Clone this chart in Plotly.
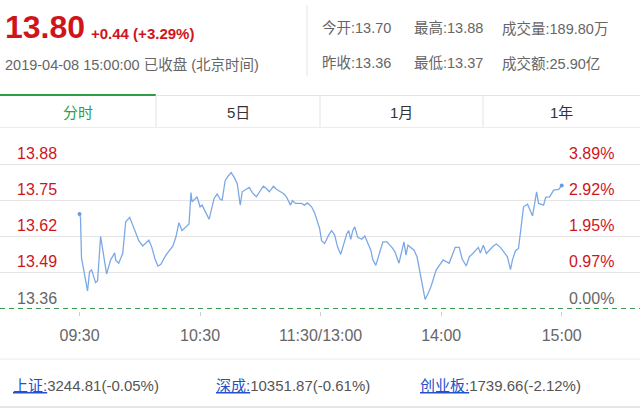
import plotly.graph_objects as go

# intraday minutes since 09:30 (lunch break removed) and price
minutes = [0, 0.5, 1, 2, 4, 5, 6, 8, 9, 10.5, 12, 13.5, 15.5, 17.5, 18, 19.5, 21.5, 23, 25,
           26.5, 28, 29.5, 31.5, 34.5, 36, 37.5, 39, 40.5, 43, 46.5, 48, 49.5, 51, 54.5,
           55.5, 56, 57.5, 58.5, 60, 61, 64.5, 66, 67, 68.5, 70, 71, 72.5, 74, 75.5, 77,
           78.5, 80, 81, 83, 84.5, 86, 88, 91.5, 93, 94.5, 96.5, 98, 101.5, 103, 105, 106,
           107.5, 110.5, 112, 113.5, 115.5, 117, 118, 119.5, 120.5, 122, 124, 125.5, 127,
           128.5, 130, 131.5, 133, 134, 135, 136, 137, 138.5, 140.5, 142, 143.5, 145, 146,
           147.5, 149, 151, 153, 155.5, 157, 159, 161.5, 162.5, 163.5, 166.5, 168, 170,
           171, 172, 173.5, 175, 177.5, 179, 181, 184, 185.5, 187, 189, 190.5, 192.5, 194,
           196, 198.5, 199.5, 201, 202.5, 206, 207.5, 209.5, 213, 214.5, 215.5, 217, 218.5,
           219.5, 221, 223, 225.5, 227.5, 228.5, 231, 232, 234, 236, 238.5, 240]
prices = [13.70, 13.686, 13.542, 13.498, 13.423, 13.492, 13.50, 13.453, 13.46, 13.62, 13.546,
          13.484, 13.535, 13.56, 13.535, 13.523, 13.558, 13.672, 13.688, 13.66, 13.633,
          13.604, 13.585, 13.606, 13.58, 13.54, 13.513, 13.519, 13.552, 13.585, 13.618,
          13.669, 13.64, 13.664, 13.777, 13.744, 13.754, 13.762, 13.726, 13.732, 13.681,
          13.726, 13.756, 13.772, 13.753, 13.75, 13.82, 13.837, 13.849, 13.832, 13.81,
          13.732, 13.78, 13.789, 13.796, 13.777, 13.762, 13.80, 13.792, 13.78, 13.80,
          13.789, 13.774, 13.762, 13.732, 13.748, 13.738, 13.738, 13.732, 13.74, 13.726,
          13.705, 13.68, 13.648, 13.604, 13.594, 13.624, 13.64, 13.624, 13.58, 13.555,
          13.594, 13.628, 13.64, 13.609, 13.64, 13.654, 13.616, 13.609, 13.621, 13.597,
          13.57, 13.535, 13.515, 13.552, 13.60, 13.60, 13.58, 13.564, 13.523, 13.60,
          13.552, 13.588, 13.57, 13.546, 13.474, 13.426, 13.393, 13.414, 13.44, 13.498,
          13.513, 13.535, 13.523, 13.552, 13.58, 13.58, 13.537, 13.513, 13.546, 13.56,
          13.58, 13.56, 13.588, 13.558, 13.585, 13.592, 13.58, 13.546, 13.50, 13.535,
          13.568, 13.576, 13.636, 13.726, 13.735, 13.693, 13.78, 13.738, 13.732, 13.76,
          13.762, 13.786, 13.789, 13.803]

time_ticks = [0, 60, 120, 180, 240]
time_labels = ["09:30", "10:30", "11:30/13:00", "14:00", "15:00"]

price_levels = [13.88, 13.75, 13.62, 13.49, 13.36]
price_labels = ["13.88", "13.75", "13.62", "13.49", "13.36"]
pct_labels = ["3.89%", "2.92%", "1.95%", "0.97%", "0.00%"]
prev_close = 13.36

last_price = "13.80"
change_text = "+0.44 (+3.29%)"
status_text = "2019-04-08 15:00:00 已收盘 (北京时间)"
info_row1 = ["今开:13.70", "最高:13.88", "成交量:189.80万"]
info_row2 = ["昨收:13.36", "最低:13.37", "成交额:25.90亿"]
tabs = ["分时", "5日", "1月", "1年"]
index_names = ["上证:", "深成:", "创业板:"]
index_values = ["3244.81(-0.05%)", "10351.87(-0.61%)", "1739.66(-2.12%)"]

W, H = 640, 410
TOP, BOTTOM = 140, 311
FONT = "Liberation Sans, Arial, Noto Sans CJK SC, sans-serif"
RED = "#d0141c"
GRAY = "#666666"
GREEN = "#2e9e45"

# pixel mapping for axes
x0_px, x1_px = 79.5, 561.7
ppm = (x1_px - x0_px) / 240
vpp = 0.13 / 36.1
y_top = 13.88 + (164 - TOP) * vpp
y_bot = 13.36 - (BOTTOM - 308.5) * vpp


def fx(x):
    return x / W


def fy(y):
    return (BOTTOM - y) / (BOTTOM - TOP)


fig = go.Figure()
fig.add_trace(go.Scatter(x=minutes, y=prices, mode="lines",
                         line=dict(color="#7ba9e6", width=1.3), hoverinfo="skip"))
fig.add_trace(go.Scatter(x=[minutes[0], minutes[-1]], y=[prices[0], prices[-1]], mode="markers",
                         marker=dict(color="#6a9be0", size=4), hoverinfo="skip"))

ann = []
shapes = []

# header
ann.append(dict(text="<b>" + last_price + "</b>", x=fx(3), y=fy(27), font=dict(size=32, color=RED)))
ann.append(dict(text="<b>" + change_text + "</b>", x=fx(89), y=fy(34), font=dict(size=15, color=RED)))
ann.append(dict(text=status_text, x=fx(3), y=fy(64), font=dict(size=14.5, color=GRAY)))
for i, (a, b) in enumerate(zip(info_row1, info_row2)):
    xx = [320, 412, 500][i]
    ann.append(dict(text=a, x=fx(xx), y=fy(28), font=dict(size=14.5, color=GRAY)))
    ann.append(dict(text=b, x=fx(xx), y=fy(63), font=dict(size=14.5, color=GRAY)))

# tabs
tab_edges = [0, 156, 320, 483, 640]
for i, t in enumerate(tabs):
    cx = (tab_edges[i] + tab_edges[i + 1]) / 2
    ann.append(dict(text=t, x=fx(cx), y=fy(112), xanchor="center",
                    font=dict(size=15, color=GREEN if i == 0 else "#333333")))

# axis labels
for i, (v, lab, pct) in enumerate(zip(price_levels, price_labels, pct_labels)):
    col = GRAY if v == prev_close else RED
    ann.append(dict(text=lab, x=fx(15), y=v, yref="y", yshift=10.5,
                    font=dict(size=16, color=col)))
    ann.append(dict(text=pct, x=fx(616), y=v, yref="y", yshift=10.5, xanchor="right",
                    font=dict(size=16, color=col)))

# index row
for i, (n, v) in enumerate(zip(index_names, index_values)):
    xx = [11, 214, 418][i]
    ann.append(dict(text='<span style="color:#2350c8;text-decoration:underline">' + n + '</span>' + v,
                    x=fx(xx), y=fy(385), font=dict(size=15, color="#555555")))

for a in ann:
    a.setdefault("xref", "paper")
    a.setdefault("yref", "paper")
    a.setdefault("xanchor", "left")
    a.setdefault("yanchor", "middle")
    a["showarrow"] = False

light = "#e3e3e3"


def hline(y, xa, xb, color=light, width=1, dash=None):
    shapes.append(dict(type="line", xref="paper", yref="paper", x0=fx(xa), x1=fx(xb),
                       y0=fy(y), y1=fy(y), line=dict(color=color, width=width, dash=dash)))


def vline(x, ya, yb, color=light):
    shapes.append(dict(type="line", xref="paper", yref="paper", x0=fx(x), x1=fx(x),
                       y0=fy(ya), y1=fy(yb), line=dict(color=color, width=1)))


vline(307, 5, 76)
hline(95.5, 156, 640)
hline(95, 0, 156, color=GREEN, width=2)
hline(127.5, 0, 640, color="#ececec")
for e in tab_edges[1:-1]:
    vline(e, 95, 127)
hline(359, 0, 640, color="#ececec")
hline(407, 0, 640, color="#e6e6e6", width=2)
shapes.append(dict(type="line", xref="paper", yref="y", x0=0, x1=1, y0=prev_close, y1=prev_close,
                   line=dict(color="#3a9a55", width=1.2, dash="5px,4px")))

fig.update_layout(
    width=W, height=H,
    margin=dict(l=0, r=0, t=TOP, b=H - BOTTOM),
    paper_bgcolor="white", plot_bgcolor="white",
    showlegend=False,
    font=dict(family=FONT),
    annotations=ann,
    shapes=shapes,
    xaxis=dict(range=[-x0_px / ppm, (W - x0_px) / ppm], tickvals=time_ticks, ticktext=time_labels,
               ticks="outside", ticklen=4, tickcolor="#cccccc", showgrid=False, zeroline=False,
               showline=False, tickfont=dict(size=16, color=GRAY), ticklabelstandoff=6,
               fixedrange=True),
    yaxis=dict(range=[y_bot, y_top], tickvals=price_levels[:-1], showticklabels=False,
               showgrid=True, gridcolor="#e4e4e4", gridwidth=1, zeroline=False, showline=False,
               fixedrange=True),
)

# page body has a default 8px margin; drop it so the figure fills the window
fig.write_html("out.html", config={"displayModeBar": False},
               post_script="document.body.style.margin='0';")
